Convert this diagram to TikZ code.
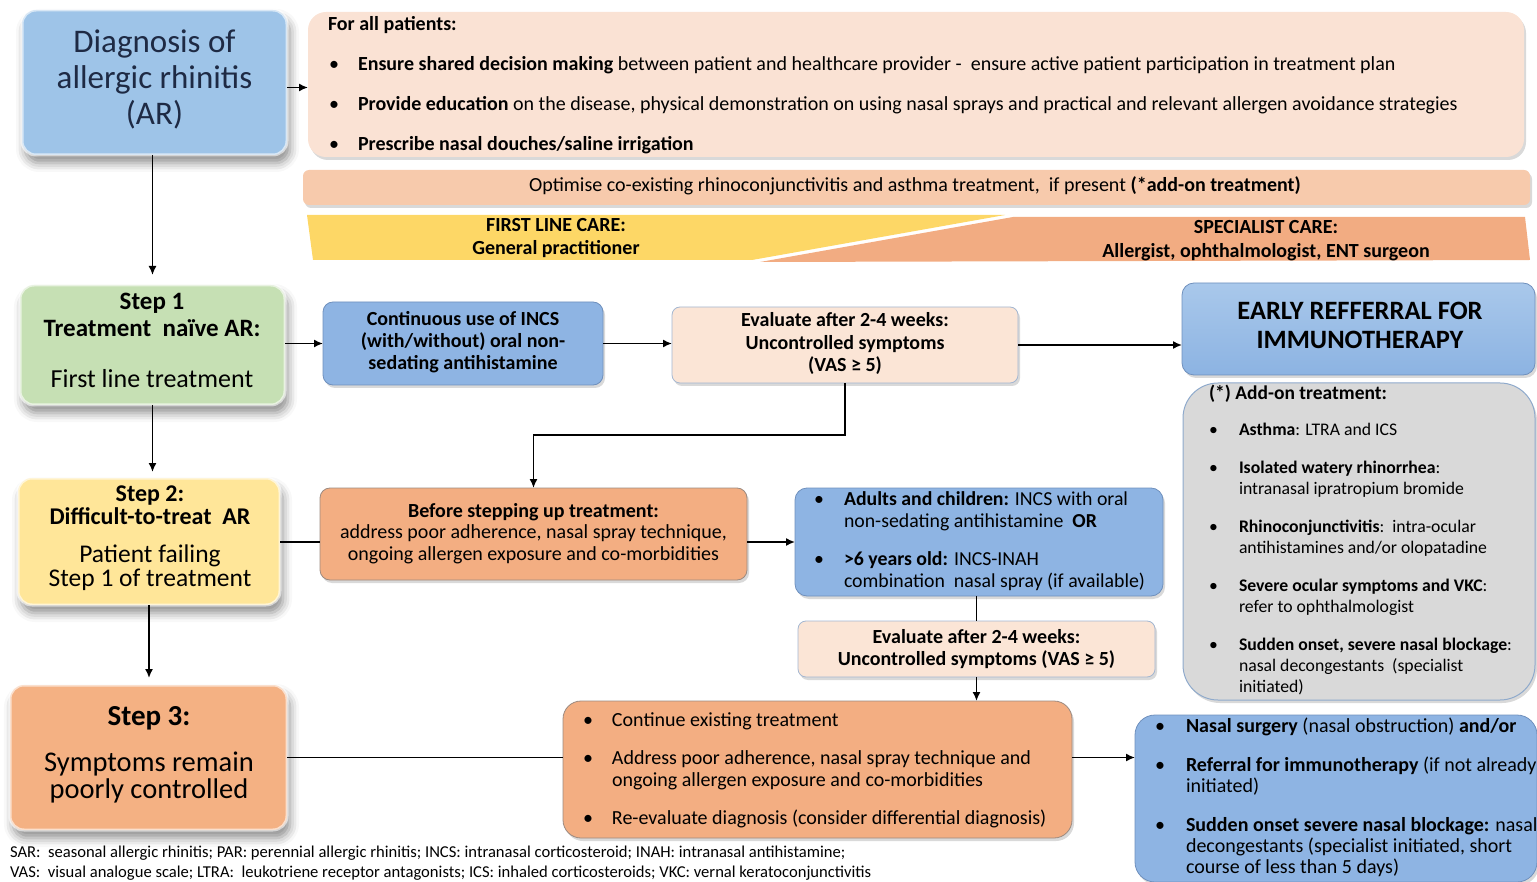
\documentclass[tikz,border=0pt]{standalone}
\usepackage{fontspec}
\setmainfont{Carlito}
\usetikzlibrary{arrows.meta,shadows,shadows.blur}

\definecolor{inkdark}{HTML}{1E2A44}
\definecolor{diagblue}{HTML}{9EC4E8}
\definecolor{patpeach}{HTML}{FAE2D4}
\definecolor{optpeach}{HTML}{F7CAAC}
\definecolor{bandyellow}{HTML}{FDD766}
\definecolor{bandorange}{HTML}{F2AC82}
\definecolor{stepgreen}{HTML}{C6E0B4}
\definecolor{medblue}{HTML}{8EB4E3}
\definecolor{medblueline}{HTML}{6F90BD}
\definecolor{evalpeach}{HTML}{FBE5D6}
\definecolor{evalline}{HTML}{A3B6D1}
\definecolor{earlytop}{HTML}{A9C8EB}
\definecolor{earlybot}{HTML}{8CB3E2}
\definecolor{addgrey}{HTML}{D9D9D9}
\definecolor{addline}{HTML}{8FAACC}
\definecolor{stepyellow}{HTML}{FFE699}
\definecolor{orangebox}{HTML}{F3AE82}
\definecolor{steporange}{HTML}{F4B183}
\definecolor{orangeline}{HTML}{9C8A80}

\newcommand\fsz[2]{\fontsize{#1}{#2}\selectfont}
\newcommand\bul[1][28pt]{\makebox[#1][l]{\textbullet}}
\newcommand\ind[1][28pt]{\hspace*{#1}}

\tikzset{
  panel/.style={anchor=north west, inner sep=0pt, outer sep=0pt},
  dims/.style 2 args={minimum width=#1pt, minimum height=#2pt},
  soft/.style={drop shadow={shadow xshift=2pt, shadow yshift=-3pt, opacity=0.3}},
  stepbox/.style={panel, rounded corners=14pt, draw=white, draw opacity=0.6, line width=3pt,
    blur shadow={shadow xshift=3pt, shadow yshift=-8pt, shadow blur radius=9pt, shadow opacity=45}},
  bluebox/.style={panel, fill=medblue, draw=medblueline, line width=0.8pt, soft},
  evalbox/.style={panel, fill=evalpeach, draw=evalline, line width=0.8pt, rounded corners=8pt, soft},
  orangepanel/.style={panel, fill=orangebox, draw=orangeline, line width=0.8pt, soft},
  % multi-line texts are placed by the baseline of their last line
  txt/.style={inner sep=0pt, outer sep=0pt, text=black, anchor=base, align=center},
  ltxt/.style={inner sep=0pt, outer sep=0pt, text=black, anchor=base west, align=left},
  arr/.style={-{Latex[length=9pt,width=8pt]}, line width=1.6pt},
  link/.style={line width=1.6pt},
}

\begin{document}
\begin{tikzpicture}[x=1pt, y=-1pt]
\useasboundingbox (0,0) rectangle (1537,882);

% ---------- diagnosis and general measures ----------
\node[stepbox, fill=diagblue, dims={265}{145}] (diag) at (22,10) {};
\node[txt, font=\fsz{33}{36}, text=inkdark] (diagtxt) at (154.5,125)
  {Diagnosis of\\allergic rhinitis\\(AR)};

\node[panel, fill=patpeach, rounded corners=18pt, soft, dims={1216}{145}] (pat) at (308,12) {};
\node[ltxt, font=\bfseries\fsz{20}{21}] (pathead) at (328,31) {For all patients:};
\node[ltxt, font=\fsz{20}{21}] (patlist) at (329,151)
  {\bul[29pt]\textbf{Ensure shared decision making} between patient and healthcare provider -\ \ ensure active patient participation in treatment plan\\[19pt]
   \bul[29pt]\textbf{Provide education} on the disease, physical demonstration\ on\ using nasal sprays and practical and relevant allergen avoidance strategies\\[19pt]
   \bul[29pt]\textbf{Prescribe nasal douches/saline irrigation}};

\node[panel, fill=optpeach, rounded corners=6pt, soft, dims={1227}{35}] (opt) at (303,170) {};
\node[txt, font=\fsz{20}{20}] (opttxt) at (915,192)
  {Optimise co-existing rhinoconjunctivitis\ and asthma treatment,\ \ if present \textbf{(*add-on treatment)}};

% ---------- level of care bands ----------
\fill[bandyellow] (307,215) -- (1005,215) -- (752,260) -- (313,260) -- cycle;
\fill[bandorange] (1013,217) -- (1525,217) -- (1530,260) -- (760,262) -- cycle;
\node[txt, font=\bfseries\fsz{20}{23}] (firstcare) at (556,255)
  {FIRST LINE CARE:\\General practitioner};
\node[txt, font=\bfseries\fsz{20}{24}] (specare) at (1266,258)
  {SPECIALIST CARE:\\Allergist, ophthalmologist, ENT surgeon};

% ---------- step 1 ----------
\node[stepbox, fill=stepgreen, dims={265}{120}] (step1) at (20,285) {};
\node[txt, font=\bfseries\fsz{25}{27}] (s1a) at (152,337) {Step 1\\Treatment\ \ na\"ive AR:};
\node[txt, font=\fsz{26}{26}] (s1b) at (152,388) {First line treatment};

\node[bluebox, rounded corners=10pt, dims={280}{83}] (incs) at (323,302) {};
\node[txt, font=\bfseries\fsz{20}{22}] (incstxt) at (463,370)
  {Continuous use of INCS\\(with/without) oral non-\\sedating antihistamine};

\node[evalbox, dims={346}{76}] (eval1) at (672,307) {};
\node[txt, font=\bfseries\fsz{20}{22.5}] (eval1txt) at (845,372)
  {Evaluate after 2-4 weeks:\\Uncontrolled symptoms\\(VAS ≥ 5)};

\node[panel, top color=earlytop, bottom color=earlybot, draw=medblueline, line width=0.8pt,
  rounded corners=12pt, soft, dims={353}{92}] (early) at (1182,283) {};
\node[txt, font=\bfseries\fsz{26.5}{29}] (earlytxt) at (1360,349)
  {EARLY REFFERRAL FOR\\IMMUNOTHERAPY};

% ---------- add-on treatment ----------
\node[panel, fill=addgrey, draw=addline, line width=1pt, rounded corners=35pt, soft,
  dims={352}{317}] (addon) at (1183,383) {};
\node[ltxt, font=\bfseries\fsz{19.5}{21}] (addhead) at (1209,400) {(*) Add-on treatment:};
\node[ltxt, font=\fsz{17.7}{21}] (addlist) at (1209,692)
  {\bul[30pt]\textbf{Asthma}: LTRA and ICS\\[17pt]
   \bul[30pt]\textbf{Isolated watery rhinorrhea}:\\
   \ind[30pt]intranasal ipratropium bromide\\[17pt]
   \bul[30pt]\textbf{Rhinoconjunctivitis}:\ \ intra-ocular\\
   \ind[30pt]antihistamines and/or olopatadine\\[17pt]
   \bul[30pt]\textbf{Severe ocular symptoms and VKC}:\\
   \ind[30pt]refer to ophthalmologist\\[17pt]
   \bul[30pt]\textbf{Sudden onset, severe nasal blockage}:\\
   \ind[30pt]nasal decongestants\ \ (specialist\\
   \ind[30pt]initiated)};

% ---------- step 2 ----------
\node[stepbox, fill=stepyellow, dims={262}{127}] (step2) at (18,478) {};
\node[txt, font=\bfseries\fsz{24}{23}] (s2a) at (150,524) {Step 2:\\Difficult-to-treat\ \ AR};
\node[txt, font=\fsz{25.5}{23.5}] (s2b) at (150,586) {Patient failing\\Step 1 of treatment};

\node[orangepanel, rounded corners=10pt, dims={427}{92}] (before) at (320,488) {};
\node[txt, font=\fsz{20}{21.5}] (beforetxt) at (533.5,560)
  {\textbf{Before stepping up treatment:}\\address poor adherence, nasal spray technique,\\ongoing allergen exposure and co-morbidities};

\node[bluebox, rounded corners=12pt, dims={368}{108}] (adults) at (795,488) {};
\node[ltxt, font=\fsz{19.8}{22}] (adultslist) at (814,587)
  {\bul[30pt]\textbf{Adults and children:} INCS with oral\\
   \ind[30pt]non-sedating antihistamine\ \ \textbf{OR}\\[16pt]
   \bul[30pt]\textbf{>6 years old:} INCS-INAH\\
   \ind[30pt]combination\ \ nasal spray (if available)};

\node[evalbox, dims={357}{56}] (eval2) at (798,621) {};
\node[txt, font=\bfseries\fsz{20}{22}] (eval2txt) at (976.5,665)
  {Evaluate after 2-4 weeks:\\Uncontrolled symptoms (VAS ≥ 5)};

% ---------- step 3 ----------
\node[stepbox, fill=steporange, dims={277}{145}] (step3) at (10,685) {};
\node[txt, font=\bfseries\fsz{29}{26}] (s3a) at (149,725) {Step 3:};
\node[txt, font=\fsz{28.5}{27}] (s3b) at (149,798) {Symptoms remain\\poorly controlled};

\node[orangepanel, rounded corners=18pt, dims={509}{137}] (cont) at (563,701) {};
\node[ltxt, font=\fsz{20}{22}] (contlist) at (583,824)
  {\bul[29pt]Continue existing treatment\\[16pt]
   \bul[29pt]Address poor adherence, nasal spray technique and\\
   \ind[29pt]ongoing allergen exposure and co-morbidities\\[16pt]
   \bul[29pt]Re-evaluate diagnosis (consider differential diagnosis)};

\node[bluebox, rounded corners=20pt, dims={402}{167}] (final) at (1135,715) {};
\node[ltxt, font=\fsz{20}{21}] (finallist) at (1155,873)
  {\bul[31pt]\textbf{Nasal surgery} (nasal obstruction) \textbf{and/or}\\[18pt]
   \bul[31pt]\textbf{Referral for immunotherapy} (if not already\\
   \ind[31pt]initiated)\\[18pt]
   \bul[31pt]\textbf{Sudden onset severe nasal blockage:} nasal\\
   \ind[31pt]decongestants (specialist initiated, short\\
   \ind[31pt]course of less than 5 days)};

% ---------- abbreviations ----------
\node[ltxt, font=\fsz{16.6}{20}] (abbr) at (10,877)
  {SAR:\ \ seasonal allergic rhinitis; PAR: perennial allergic rhinitis; INCS: intranasal corticosteroid; INAH: intranasal antihistamine;\\
   VAS:\ \ visual analogue scale; LTRA:\ \ leukotriene receptor\ antagonists; ICS: inhaled corticosteroids; VKC: vernal keratoconjunctivitis};

% ---------- connectors ----------
\draw[arr] ([yshift=-5pt]diag.east) -- ([yshift=-5pt]pat.west |- diag.east);
\draw[arr] (diag.south -| step1.north) -- ([yshift=10pt]step1.north);
\draw[arr] (step1.south) -- ([yshift=6pt]step1.south |- step2.north);
\draw[arr] (step2.south) -- ([yshift=7pt]step2.south |- step3.north);

\draw[arr] (incs.west -| step1.east) -- (incs.west);
\draw[arr] (incs.east) -- (incs.east -| eval1.west);
\draw[arr] (eval1.east) -- (eval1.east -| early.west);
\draw[arr] (eval1.south) -- ++(0,52) -| (before.north);

\draw[link] (step2.east |- adults.west) -- (before.west |- adults.west);
\draw[arr] (before.east |- adults.west) -- (adults.west);
\draw[link] (eval2.north |- adults.south) -- (eval2.north);
\draw[arr] (eval2.south) -- (eval2.south |- cont.north);

\draw[link] (step3.east) -- (step3.east -| cont.west);
\draw[arr] (step3.east -| cont.east) -- (step3.east -| final.west);
\end{tikzpicture}
\end{document}
